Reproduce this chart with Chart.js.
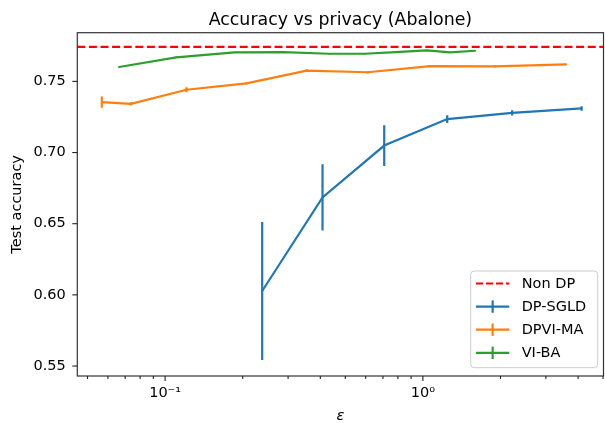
<!DOCTYPE html>
<html>
<head>
<meta charset="utf-8">
<script src="https://cdn.jsdelivr.net/npm/chart.js@4.4.1/dist/chart.umd.min.js"></script>
<style>
  body { margin: 0; background: #fff; }
  #wrap { width: 605px; height: 423px; }
</style>
</head>
<body>
<div id="wrap"><canvas id="mycanvas" width="605" height="423"></canvas></div>
<script>
// values
var titleText = "Accuracy vs privacy (Abalone)";
var seriesNames = ["Non DP", "DP-SGLD", "DPVI-MA", "VI-BA"];
var seriesColors = ["#ff0000", "#1f77b4", "#ff7f0e", "#2ca02c"];

var nonDpAcc = 0.7742;

var sgldEps = [0.238, 0.408, 0.708, 1.243, 2.22, 4.13];
var sgldAcc = [0.6027, 0.6685, 0.7049, 0.7235, 0.7279, 0.7310];
var sgldErr = [0.0485, 0.0232, 0.0143, 0.0027, 0.0019, 0.0016];

var dpviEps = [0.0568, 0.0737, 0.121, 0.2067, 0.354, 0.611, 1.067, 1.90, 3.59];
var dpviAcc = [0.7354, 0.7342, 0.7441, 0.7486, 0.7575, 0.7564, 0.7607, 0.7606, 0.7620];
var dpviErr = [0.0039, 0.0012, 0.0018, 0.0008, 0.0009, 0.0008, 0.0008, 0.0008, 0.0006];

var vibaEps = [0.0663, 0.1105, 0.186, 0.287, 0.4325, 0.594, 0.783, 1.034, 1.276, 1.592];
var vibaAcc = [0.7601, 0.7669, 0.7704, 0.7706, 0.7694, 0.7694, 0.7706, 0.7718, 0.7704, 0.7715];
var vibaErr = [0.0005, 0.0005, 0.0005, 0.0005, 0.0005, 0.0005, 0.0005, 0.0005, 0.0005, 0.0005];

var xTicks = [0.05, 0.06, 0.07, 0.08, 0.09, 0.1, 0.2, 0.3, 0.4, 0.5, 0.6, 0.7, 0.8, 0.9, 1, 2, 3, 4, 5];
var xMajor = [0.1, 1];
var xMajorLabels = ["10\u207B\u00B9", "10\u2070"];
var yTicks = [0.55, 0.60, 0.65, 0.70, 0.75];
var xRange = [0.04564, 5.02];
var yRange = [0.5430, 0.7842];

var FONT = "DejaVu Sans";

function pts(xs, ys) {
  return xs.map(function(x, i) { return {x: x, y: ys[i]}; });
}

function line(ctx, x1, y1, x2, y2) {
  ctx.beginPath(); ctx.moveTo(x1, y1); ctx.lineTo(x2, y2); ctx.stroke();
}

var extras = {
  id: "extras",
  afterDatasetsDraw: function(chart) {
    var ctx = chart.ctx, xs = chart.scales.x, ys = chart.scales.y, a = chart.chartArea;
    ctx.save();
    ctx.beginPath();
    ctx.rect(a.left, a.top, a.right - a.left, a.bottom - a.top);
    ctx.clip();
    chart.data.datasets.forEach(function(ds) {
      if (!ds.errors) return;
      ctx.strokeStyle = ds.borderColor;
      ctx.lineWidth = ds.borderWidth;
      ds.data.forEach(function(p, i) {
        var px = xs.getPixelForValue(p.x);
        line(ctx, px, ys.getPixelForValue(p.y - ds.errors[i]), px, ys.getPixelForValue(p.y + ds.errors[i]));
      });
    });
    ctx.restore();
  },
  afterDraw: function(chart) {
    var ctx = chart.ctx, xs = chart.scales.x, ys = chart.scales.y, a = chart.chartArea;
    ctx.save();
    // frame
    ctx.strokeStyle = "#333";
    ctx.lineWidth = 1.2;
    ctx.strokeRect(a.left, a.top, a.right - a.left, a.bottom - a.top);
    // ticks
    ctx.lineWidth = 1.1;
    ctx.strokeStyle = "#222";
    xs.ticks.forEach(function(t) {
      var px = xs.getPixelForValue(t.value);
      var len = xMajor.indexOf(t.value) >= 0 ? 5 : 3;
      line(ctx, px, a.bottom, px, a.bottom + len);
    });
    ys.ticks.forEach(function(t) {
      var py = ys.getPixelForValue(t.value);
      line(ctx, a.left - 5, py, a.left, py);
    });
    // title
    ctx.fillStyle = "#000";
    ctx.font = "17.4px '" + FONT + "'";
    ctx.textAlign = "center";
    ctx.textBaseline = "alphabetic";
    ctx.fillText(titleText, (a.left + a.right) / 2, 24.5);

    // legend
    var bw = 127, bh = 96.7;
    var bx = a.right - 5.8 - bw, by = a.bottom - 8.3 - bh;
    ctx.beginPath();
    ctx.roundRect(bx, by, bw, bh, 3.5);
    ctx.fillStyle = "rgba(255,255,255,0.8)";
    ctx.fill();
    ctx.strokeStyle = "#cccccc";
    ctx.lineWidth = 1;
    ctx.stroke();
    ctx.font = "14.5px '" + FONT + "'";
    ctx.textAlign = "left";
    ctx.textBaseline = "middle";
    chart.data.datasets.forEach(function(ds, i) {
      var ry = by + 12.5 + i * 23.1;
      var hx1 = bx + 5.3, hx2 = bx + 38.6;
      ctx.strokeStyle = ds.borderColor;
      ctx.lineWidth = ds.borderWidth;
      if (ds.borderDash && ds.borderDash.length) {
        ctx.setLineDash([7, 3]);
        line(ctx, hx1, ry, hx2, ry);
        ctx.setLineDash([]);
      } else {
        line(ctx, hx1, ry, hx2, ry);
        var cx = (hx1 + hx2) / 2;
        line(ctx, cx, ry - 6.2, cx, ry + 6.2);
      }
      ctx.fillStyle = "#000";
      ctx.fillText(ds.label, bx + 51, ry + 0.5);
    });
    ctx.restore();
  }
};

var ctx = document.getElementById("mycanvas");

var chartdata = {
  datasets: [
    {
      label: seriesNames[0],
      data: pts(xRange, [nonDpAcc, nonDpAcc]),
      borderColor: seriesColors[0],
      borderWidth: 2.2,
      borderDash: [8, 3.6],
      pointRadius: 0
    },
    {
      label: seriesNames[1],
      data: pts(sgldEps, sgldAcc),
      errors: sgldErr,
      borderColor: seriesColors[1],
      borderWidth: 2.2,
      pointRadius: 0
    },
    {
      label: seriesNames[2],
      data: pts(dpviEps, dpviAcc),
      errors: dpviErr,
      borderColor: seriesColors[2],
      borderWidth: 2.2,
      pointRadius: 0
    },
    {
      label: seriesNames[3],
      data: pts(vibaEps, vibaAcc),
      errors: vibaErr,
      borderColor: seriesColors[3],
      borderWidth: 2.2,
      pointRadius: 0
    }
  ]
};

var AccChart = new Chart(ctx, {
  type: "scatter",
  data: chartdata,
  plugins: [extras],
  options: {
    responsive: false,
    animation: false,
    showLine: true,
    layout: { padding: { top: 32.7, right: 1.5, left: 0, bottom: 0 } },
    plugins: {
      legend: { display: false },
      tooltip: { enabled: false },
      title: { display: false }
    },
    scales: {
      x: {
        type: "logarithmic",
        bounds: "data",
        min: xRange[0],
        max: xRange[1],
        grid: { display: false, drawTicks: false },
        border: { display: false },
        afterBuildTicks: function(scale) {
          scale.ticks = xTicks.map(function(v) { return {value: v}; });
        },
        afterFit: function(scale) {
          scale.height = 47;
          scale.paddingLeft = 0;
          scale.paddingRight = 0;
        },
        ticks: {
          autoSkip: false,
          maxRotation: 0,
          padding: 9,
          color: "#000",
          font: { family: FONT, size: 14.5 },
          callback: function(v) {
            var k = xMajor.indexOf(v);
            return k >= 0 ? xMajorLabels[k] : "";
          }
        },
        title: {
          display: true,
          text: "\u03B5",
          color: "#000",
          font: { family: FONT, size: 14.5, style: "italic", lineHeight: 1.0 },
          padding: { top: 0, bottom: 0 }
        }
      },
      y: {
        bounds: "data",
        min: yRange[0],
        max: yRange[1],
        grid: { display: false, drawTicks: false },
        border: { display: false },
        afterBuildTicks: function(scale) {
          scale.ticks = yTicks.map(function(v) { return {value: v}; });
        },
        afterFit: function(scale) { scale.width = 77.3; },
        ticks: {
          padding: 11.6,
          color: "#000",
          font: { family: FONT, size: 14.5 },
          callback: function(v) { return v.toFixed(2); }
        },
        title: {
          display: true,
          text: "Test accuracy",
          color: "#000",
          font: { family: FONT, size: 14.5 },
          padding: { top: 8.8, bottom: 0 }
        }
      }
    }
  }
});
</script>
</body>
</html>
